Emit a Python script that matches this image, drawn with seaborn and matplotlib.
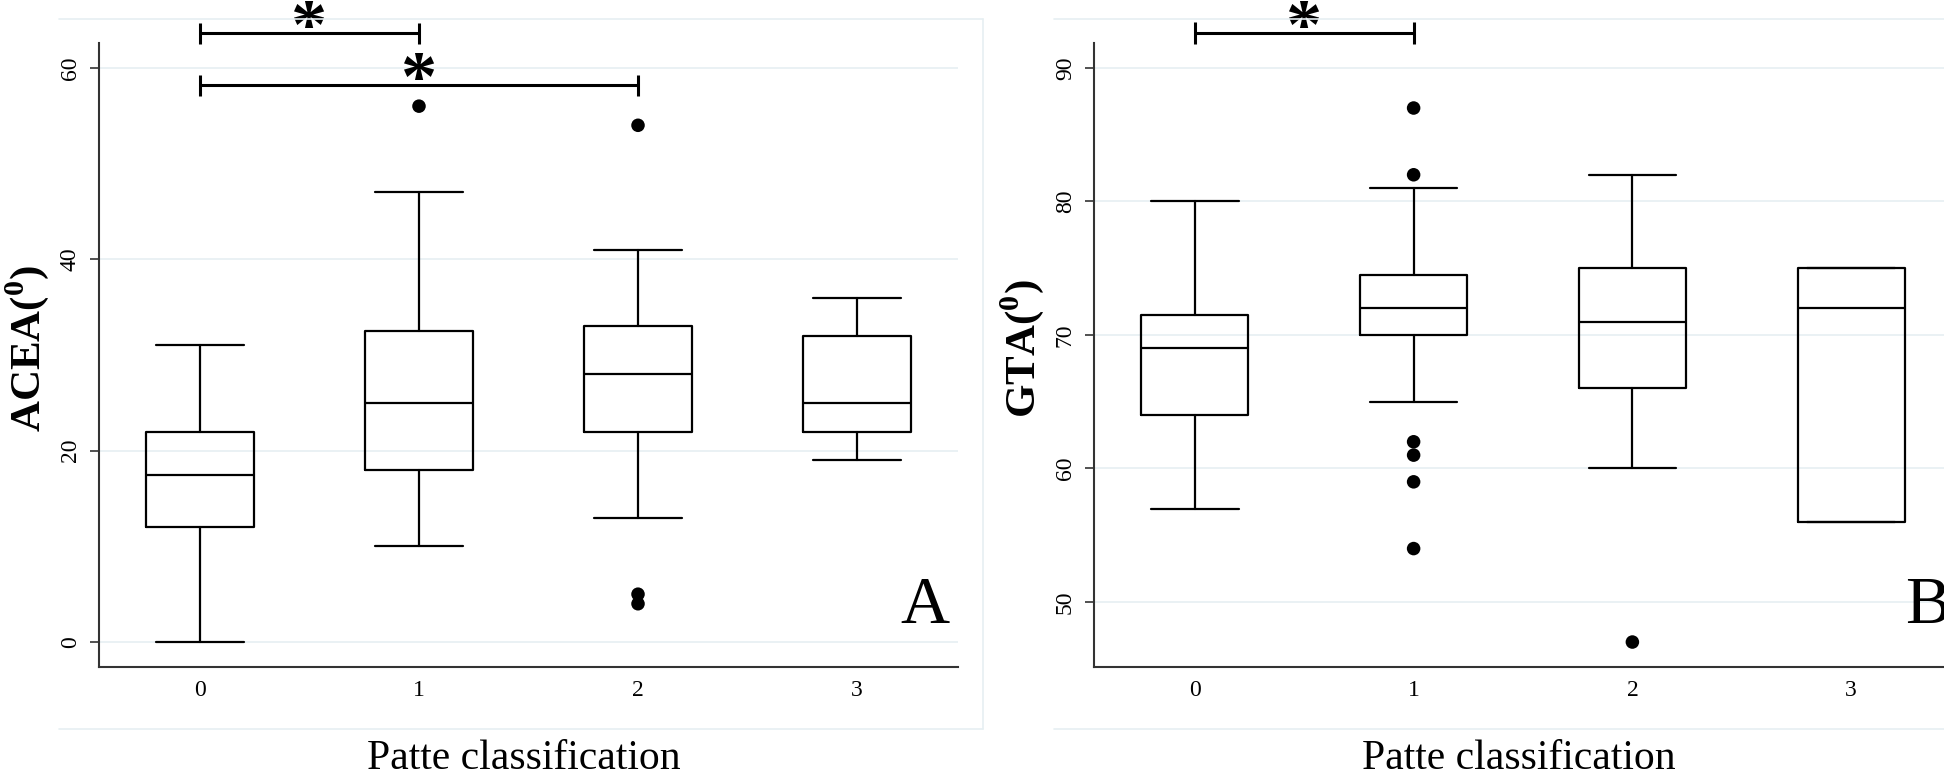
"""Box plots ACEA / GTA theo Patte classification (2 panel, kieu Stata)."""
import matplotlib

matplotlib.use("Agg")
import matplotlib.pyplot as plt
import seaborn as sns
from matplotlib.lines import Line2D

# ---- du lieu doc tu hinh ----
categories = [0, 1, 2, 3]

acea_whislo = [0, 10, 13, 19]
acea_q1 = [12, 18, 22, 22]
acea_med = [17.5, 25, 28, 25]
acea_q3 = [22, 32.5, 33, 32]
acea_whishi = [31, 47, 41, 36]
acea_fliers = [[], [56], [54, 5, 4], []]
acea_brackets = [(0, 1, 63.6), (0, 2, 58.2)]

gta_whislo = [57, 65, 60, 56]
gta_q1 = [64, 70, 66, 56]
gta_med = [69, 72, 71, 72]
gta_q3 = [71.5, 74.5, 75, 75]
gta_whishi = [80, 81, 82, 75]
gta_fliers = [[], [87, 82, 62, 61, 59, 54], [47], []]
gta_brackets = [(0, 1, 92.6)]

W, H = 1944, 778
GRID = "#e6eff2"
SPINE = "#333333"

sns.set_theme(style="white")
plt.rcParams["font.family"] = ["Liberation Serif", "DejaVu Serif"]
plt.rcParams["mathtext.fontset"] = "custom"
plt.rcParams["mathtext.rm"] = "Liberation Serif"
plt.rcParams["mathtext.bf"] = "Liberation Serif:bold"
plt.rcParams.update({"text.color": "black", "axes.labelcolor": "black",
                     "xtick.labelcolor": "black", "ytick.labelcolor": "black"})


def make_stats(lo, q1, med, q3, hi):
    return [
        {"whislo": a, "q1": b, "med": c, "q3": d, "whishi": e, "fliers": []}
        for a, b, c, d, e in zip(lo, q1, med, q3, hi)
    ]


def draw_panel(ax, stats, fliers, brackets, ylim, yticks, ylabel, letter, letter_x,
               cap_h):
    ax.bxp(
        stats, positions=categories, widths=0.49, capwidths=0.40,
        showfliers=False,
        boxprops=dict(color="black", lw=1.6),
        whiskerprops=dict(color="black", lw=1.6),
        capprops=dict(color="black", lw=1.6),
        medianprops=dict(color="black", lw=1.6),
    )
    fx = [c for c, fl in zip(categories, fliers) for _ in fl]
    fy = [v for fl in fliers for v in fl]
    sns.scatterplot(x=fx, y=fy, ax=ax, color="black", s=95, edgecolor="none",
                    legend=False, zorder=3)

    ax.set_xlim(-0.461, 3.461)
    ax.set_ylim(*ylim)
    ax.set_xticks(categories)
    ax.set_xticklabels([str(c) for c in categories])
    ax.set_yticks(yticks)
    ax.yaxis.grid(True, color=GRID, lw=1.2)
    ax.xaxis.grid(False)
    ax.set_axisbelow(True)
    sns.despine(ax=ax)
    for s in ("left", "bottom"):
        ax.spines[s].set_color(SPINE)
        ax.spines[s].set_linewidth(1.5)
    ax.tick_params(axis="y", left=True, length=6.5, width=1.2, color=SPINE,
                   labelcolor="black", pad=6.5, labelsize=17, labelrotation=90)
    for t in ax.get_yticklabels():
        t.set_va("center")
    ax.tick_params(axis="x", bottom=False, length=0, pad=9, labelsize=17,
                   labelcolor="black")

    ax.set_ylabel(ylabel, fontsize=31, fontweight="bold", va="center")
    ax.yaxis.set_label_coords(-0.084, 0.51)
    ax.set_xlabel("Patte classification", fontsize=30, va="baseline")
    ax.xaxis.set_label_coords(0.495, -0.163)

    ax.text(letter_x, 0.0705, letter, transform=ax.transAxes, fontsize=49,
            ha="left", va="baseline")

    # brackets co y nghia thong ke
    for a, b, y in brackets:
        kw = dict(color="black", lw=2.2, clip_on=False, solid_capstyle="butt")
        ax.plot([a, b], [y, y], **kw)
        ax.plot([a, a], [y - cap_h, y + cap_h], **kw)
        ax.plot([b, b], [y - cap_h, y + cap_h], **kw)
        ax.annotate("*", xy=((a + b) / 2, y), xytext=(0, -10.5),
                    textcoords="offset points", ha="center", va="baseline",
                    fontsize=52, fontweight="bold", annotation_clip=False)


def frame(fig, x0, x1, y0, y1, right=True):
    kw = dict(color=GRID, lw=1.2, transform=fig.transFigure)
    fig.add_artist(Line2D([x0 / W, x1 / W], [1 - y0 / H, 1 - y0 / H], **kw))
    fig.add_artist(Line2D([x0 / W, x1 / W], [1 - y1 / H, 1 - y1 / H], **kw))
    if right:
        fig.add_artist(Line2D([x1 / W, x1 / W], [1 - y0 / H, 1 - y1 / H], **kw))


fig = plt.figure(figsize=(W / 100, H / 100), dpi=100)
frame(fig, 59, 983, 19, 729)
frame(fig, 1054, W + 10, 19, 729, right=False)

ax_a = fig.add_axes([99 / W, 1 - 667 / H, 859 / W, 624 / H])
ax_b = fig.add_axes([1094 / W, 1 - 667 / H, 858 / W, 624 / H])

draw_panel(ax_a, make_stats(acea_whislo, acea_q1, acea_med, acea_q3, acea_whishi),
           acea_fliers, acea_brackets, (-2.61, 62.6), [0, 20, 40, 60],
           r"ACEA($^{\mathbf{0}}$)", "A", 0.9325, 1.1)
draw_panel(ax_b, make_stats(gta_whislo, gta_q1, gta_med, gta_q3, gta_whishi),
           gta_fliers, gta_brackets, (45.13, 91.87), [50, 60, 70, 80, 90],
           r"GTA($^{\mathbf{0}}$)", "B", 0.945, 0.82)

fig.savefig("out.png", dpi=100)
plt.close(fig)
